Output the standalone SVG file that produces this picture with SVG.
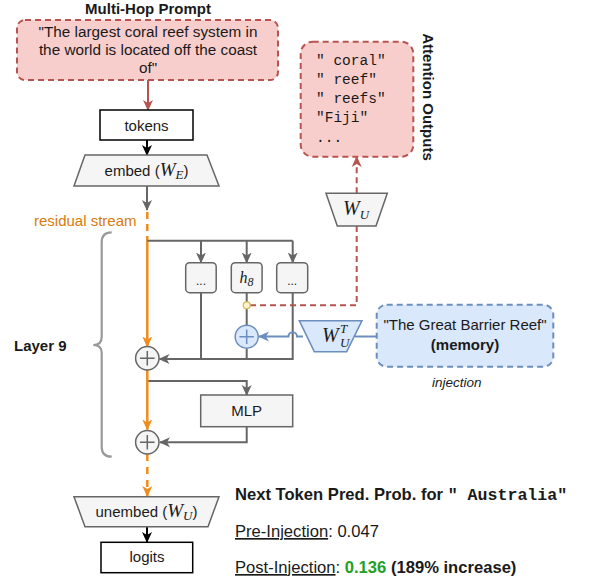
<svg xmlns="http://www.w3.org/2000/svg" width="596" height="586" viewBox="0 0 596 586">
<defs>
<marker id="aGray" markerUnits="userSpaceOnUse" markerWidth="12" markerHeight="12" refX="10" refY="6" orient="auto"><path d="M0,1 L11,6 L0,11 L3,6 z" fill="#666"/></marker>
<marker id="aBlack" markerUnits="userSpaceOnUse" markerWidth="12" markerHeight="12" refX="10" refY="6" orient="auto"><path d="M0,1 L11,6 L0,11 L3,6 z" fill="#000"/></marker>
<marker id="aRed" markerUnits="userSpaceOnUse" markerWidth="12" markerHeight="12" refX="10" refY="6" orient="auto"><path d="M0,1 L11,6 L0,11 L3,6 z" fill="#b85450"/></marker>
<marker id="aOrange" markerUnits="userSpaceOnUse" markerWidth="12" markerHeight="12" refX="10" refY="6" orient="auto"><path d="M0,1 L11,6 L0,11 L3,6 z" fill="#f08c1a"/></marker>
<marker id="aBlue" markerUnits="userSpaceOnUse" markerWidth="12" markerHeight="12" refX="10" refY="6" orient="auto"><path d="M0,1 L11,6 L0,11 L3,6 z" fill="#6c8ebf"/></marker>
</defs>
<style>
text{font-family:"Liberation Sans",Arial,sans-serif;fill:#1a1a1a}
.b{font-weight:bold}
.m{font-family:"Liberation Serif","Times New Roman",serif;font-style:italic}
.mono{font-family:"Liberation Mono","Courier New",monospace}
.red{fill:#f8cecc;stroke:#b85450;stroke-width:2;stroke-dasharray:6 4}
.blue{fill:#dae8fc;stroke:#6c8ebf;stroke-width:2;stroke-dasharray:6 4}
.gbox{fill:#f5f5f5;stroke:#666;stroke-width:1.5}
.bbox{fill:#fff;stroke:#000;stroke-width:1.5}
.gl{fill:none;stroke:#666;stroke-width:2}
.ol{fill:none;stroke:#f08c1a;stroke-width:2.5}
.rl{fill:none;stroke:#b85450;stroke-width:2;stroke-dasharray:6 4}
.bl{fill:none;stroke:#6c8ebf;stroke-width:2}
</style>
<rect width="596" height="586" fill="#fff"/>

<g id="connectors">
<line x1="148" y1="80" x2="148" y2="110" stroke="#b85450" stroke-width="2" marker-end="url(#aRed)"/>
<line x1="147" y1="140" x2="147" y2="155" stroke="#000" stroke-width="2" marker-end="url(#aBlack)"/>
<line x1="147" y1="186" x2="147" y2="210" class="gl" marker-end="url(#aGray)"/>
<line x1="147.3" y1="212" x2="147.3" y2="238" class="ol" stroke-dasharray="7 5"/>
<line x1="147.3" y1="238" x2="147.3" y2="346.5" class="ol" marker-end="url(#aOrange)"/>
<polyline points="147.3,240.7 292.7,240.7" class="gl"/>
<line x1="201" y1="240.7" x2="201" y2="262.5" class="gl" marker-end="url(#aGray)"/>
<line x1="246.7" y1="240.7" x2="246.7" y2="262.5" class="gl" marker-end="url(#aGray)"/>
<line x1="292.7" y1="240.7" x2="292.7" y2="262.5" class="gl" marker-end="url(#aGray)"/>
<line x1="201" y1="292.7" x2="201" y2="359" class="gl"/>
<line x1="246.7" y1="292.7" x2="246.7" y2="325" class="gl"/>
<line x1="246.7" y1="348.5" x2="246.7" y2="359" class="gl"/>
<polyline points="292.7,292.7 292.7,359 159.5,359" class="gl" marker-end="url(#aGray)"/>
<polyline points="250,305.3 356.7,305.3 356.7,226" class="rl"/>
<line x1="356.7" y1="193.3" x2="356.7" y2="157" class="rl" marker-end="url(#aRed)"/>
<path d="M303,336.5 L297,336.5 A4.3,4.3 0 0 0 288.4,336.5 L259,336.5" class="bl" marker-end="url(#aBlue)"/>
<line x1="355" y1="336.5" x2="376.7" y2="336.5" class="bl"/>
<polyline points="147.3,381 246.7,381 246.7,395" class="gl" marker-end="url(#aGray)"/>
<line x1="147.3" y1="370" x2="147.3" y2="429.5" class="ol" marker-end="url(#aOrange)"/>
<polyline points="246.7,426.7 246.7,442.3 160,442.3" class="gl" marker-end="url(#aGray)"/>
<line x1="147.3" y1="454" x2="147.3" y2="496" class="ol" stroke-dasharray="7 6" marker-end="url(#aOrange)"/>
<line x1="147" y1="527" x2="147" y2="542" stroke="#000" stroke-width="2" marker-end="url(#aBlack)"/>
<path d="M111.7,232.3 Q101.7,232.3 101.7,242.3 L101.7,337 Q101.7,345 93.3,345 Q101.7,345 101.7,353 L101.7,446.7 Q101.7,456.7 111.7,456.7" fill="none" stroke="#999" stroke-width="2.2"/>
</g>

<g id="title">
<text x="148" y="14" text-anchor="middle" class="b" font-size="15">Multi-Hop Prompt</text>
</g>

<g id="prompt">
<rect x="17" y="20" width="261" height="60" rx="8" class="red"/>
<text x="148" y="37" text-anchor="middle" font-size="15.3">"The largest coral reef system in</text>
<text x="148" y="55" text-anchor="middle" font-size="15.3">the world is located off the coast</text>
<text x="148" y="72.5" text-anchor="middle" font-size="15.3">of"</text>
</g>

<g id="tokens">
<rect x="100" y="110" width="93" height="30" class="bbox"/>
<text x="146.5" y="131" text-anchor="middle" font-size="15">tokens</text>
</g>

<g id="embed">
<polygon points="85,155 207,155 219,186 74,186" class="gbox"/>
<text x="146.5" y="176" text-anchor="middle" font-size="15" fill="#333">embed (<tspan class="m" font-size="19">W</tspan><tspan class="m" font-size="13" dy="3">E</tspan><tspan dy="-3">)</tspan></text>
</g>

<g id="residual-label">
<text x="34" y="226" font-size="15" style="fill:#d97b0b">residual stream</text>
</g>

<g id="attention-outputs">
<rect x="300.7" y="41.7" width="112.6" height="115" rx="12" class="red"/>
<text class="mono" font-size="14.5" fill="#333"><tspan x="316" y="65">" coral"</tspan><tspan x="316" y="84">" reef"</tspan><tspan x="316" y="103">" reefs"</tspan><tspan x="316" y="122">"Fiji"</tspan><tspan x="316" y="141.5">...</tspan></text>
<text transform="translate(423,97) rotate(90)" text-anchor="middle" class="b" font-size="15">Attention Outputs</text>
</g>

<g id="wu-top">
<polygon points="326,193.3 387.3,193.3 376,226 337.3,226" class="gbox"/>
<text x="356" y="215" text-anchor="middle" fill="#333"><tspan class="m" font-size="20">W</tspan><tspan class="m" font-size="13" dy="4">U</tspan></text>
</g>

<g id="head1">
<rect x="185.7" y="262.7" width="30.5" height="30" rx="4" class="gbox"/>
<text x="201" y="285" text-anchor="middle" font-size="12" fill="#333">...</text>
</g>
<g id="head-h8">
<rect x="231.3" y="262.7" width="30.8" height="30" rx="4" class="gbox"/>
<text x="246.5" y="283" text-anchor="middle" fill="#333"><tspan class="m" font-size="16">h</tspan><tspan class="m" font-size="12" dy="3">8</tspan></text>
</g>
<g id="head3">
<rect x="276.7" y="262.7" width="31" height="30" rx="4" class="gbox"/>
<text x="292.2" y="285" text-anchor="middle" font-size="12" fill="#333">...</text>
</g>

<g id="hook-point">
<circle cx="246.7" cy="305.3" r="3.5" fill="#fff2cc" stroke="#d6b656" stroke-width="1.2"/>
</g>

<g id="inject-add">
<circle cx="246.7" cy="336.7" r="11.5" fill="#dae8fc" stroke="#6c8ebf" stroke-width="1.5"/>
<path d="M246.7,329.5 V343.9 M239.5,336.7 H253.9" stroke="#6c8ebf" stroke-width="1.5"/>
</g>

<g id="wu-t">
<polygon points="299.3,320.7 362,320.7 346.7,351.7 314.3,351.7" fill="#dae8fc" stroke="#6c8ebf" stroke-width="1.5"/>
<text x="322" y="342" font-size="20" class="m" fill="#1a1a1a">W</text>
<text x="340" y="333" font-size="13" class="m" fill="#1a1a1a">T</text>
<text x="340" y="347" font-size="13" class="m" fill="#1a1a1a">U</text>
</g>

<g id="memory">
<rect x="376.7" y="304.7" width="176.6" height="62" rx="10" class="blue"/>
<text x="465" y="330" text-anchor="middle" font-size="15">"The Great Barrier Reef"</text>
<text x="465" y="349.5" text-anchor="middle" font-size="15" class="b">(memory)</text>
<text x="456.7" y="387" text-anchor="middle" font-size="13.5" font-style="italic">injection</text>
</g>

<g id="add1">
<circle cx="147.3" cy="358.3" r="11.7" fill="#f5f5f5" stroke="#666" stroke-width="1.5"/>
<path d="M147.3,351 V365.6 M140,358.3 H154.6" stroke="#666" stroke-width="1.5"/>
</g>

<g id="mlp">
<rect x="200.7" y="395" width="92" height="31.7" class="gbox"/>
<text x="246.7" y="416" text-anchor="middle" font-size="15" fill="#333">MLP</text>
</g>

<g id="add2">
<circle cx="147.3" cy="442.3" r="11.7" fill="#f5f5f5" stroke="#666" stroke-width="1.5"/>
<path d="M147.3,435 V449.6 M140,442.3 H154.6" stroke="#666" stroke-width="1.5"/>
</g>

<g id="layer-label">
<text x="14" y="351" class="b" font-size="15">Layer 9</text>
</g>

<g id="unembed">
<polygon points="74,496.7 219,496.7 208,526.7 85,526.7" class="gbox"/>
<text x="146.5" y="517" text-anchor="middle" font-size="15" fill="#333">unembed (<tspan class="m" font-size="19">W</tspan><tspan class="m" font-size="13" dy="3">U</tspan><tspan dy="-3">)</tspan></text>
</g>

<g id="logits">
<rect x="101" y="542.3" width="91.7" height="30.4" class="bbox"/>
<text x="147" y="562" text-anchor="middle" font-size="15">logits</text>
</g>

<g id="results">
<text x="235" y="500" class="b" font-size="16.6">Next Token Pred. Prob. for <tspan class="mono" font-weight="bold">" Australia"</tspan></text>
<text x="235" y="537" font-size="16.6"><tspan text-decoration="underline">Pre-Injection</tspan>: 0.047</text>
<text x="235" y="573" font-size="16.6"><tspan text-decoration="underline">Post-Injection</tspan>: <tspan class="b" style="fill:#22a022">0.136</tspan> <tspan class="b">(189% increase)</tspan></text>
</g>
</svg>
